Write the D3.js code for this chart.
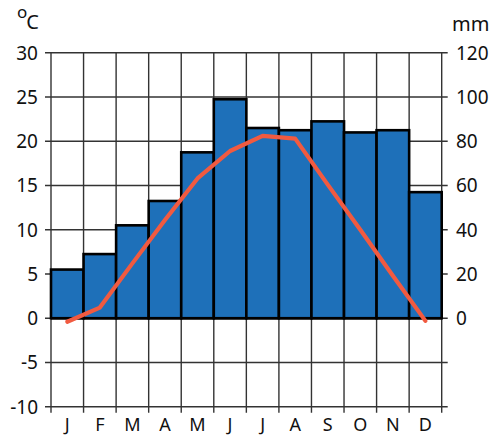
<!DOCTYPE html>
<html>
<head>
<meta charset="utf-8">
<script src="https://cdn.jsdelivr.net/npm/d3@7"></script>
<style>
  body { margin: 0; background: #fff; }
  svg text { font-family: "Noto Sans", "Open Sans", sans-serif; fill: #111; }
</style>
</head>
<body>
<svg id="chart" width="490" height="436"></svg>
<script>
// climate diagram: precipitation bars (right axis), temperature line (left axis)
var months = ["J", "F", "M", "A", "M", "J", "J", "A", "S", "O", "N", "D"];
var precip = [22, 29, 42, 53, 75, 99, 86, 85, 89, 84, 85, 57];
var temp = [-0.4, 1.2, 6.2, 11.1, 15.8, 18.9, 20.6, 20.3, 15.1, 10.0, 4.8, -0.3];
var tempTicks = [-10, -5, 0, 5, 10, 15, 20, 25, 30];
var precipTicks = [0, 20, 40, 60, 80, 100, 120];

var svg = d3.select("#chart"),
    plotLeft = 51, plotRight = 441.7, plotTop = 52.8, plotBottom = 406.7;

var x = d3.scaleBand()
    .domain(d3.range(months.length))
    .range([plotLeft, plotRight])
    .padding(0);

var yT = d3.scaleLinear().domain([-10, 30]).range([plotBottom, plotTop]);
var yP = d3.scaleLinear().domain([0, 120]).range([yT(0), yT(30)]);

var grid = svg.append("g").attr("stroke", "#333").attr("stroke-width", 1.4);

// horizontal grid with tick stubs on both sides
grid.selectAll("line.h")
  .data(tempTicks)
  .enter().append("line")
    .attr("class", "h")
    .attr("x1", plotLeft - 6)
    .attr("x2", plotRight + 6)
    .attr("y1", function(d) { return yT(d); })
    .attr("y2", function(d) { return yT(d); });

// vertical grid at month boundaries, running past the bottom edge
var bounds = d3.range(months.length + 1).map(function(i) {
  return i < months.length ? x(i) : plotRight;
});
grid.selectAll("line.v")
  .data(bounds)
  .enter().append("line")
    .attr("class", "v")
    .attr("x1", function(d) { return d; })
    .attr("x2", function(d) { return d; })
    .attr("y1", plotTop)
    .attr("y2", plotBottom + 6);

// bars
svg.append("g")
  .selectAll("rect")
  .data(precip)
  .enter().append("rect")
    .attr("x", function(d, i) { return x(i); })
    .attr("y", function(d) { return yP(d); })
    .attr("width", x.bandwidth())
    .attr("height", function(d) { return yP(0) - yP(d); })
    .attr("fill", "#1e70b9")
    .attr("stroke", "#000")
    .attr("stroke-width", 2.6);

// zero line
svg.append("line")
    .attr("x1", plotLeft).attr("x2", plotRight)
    .attr("y1", yT(0)).attr("y2", yT(0))
    .attr("stroke", "#000").attr("stroke-width", 2.6);

// temperature line
var line = d3.line()
    .x(function(d, i) { return x(i) + x.bandwidth() / 2; })
    .y(function(d) { return yT(d); });

svg.append("path")
    .datum(temp)
    .attr("d", line)
    .attr("fill", "none")
    .attr("stroke", "#f15a40")
    .attr("stroke-width", 4.2)
    .attr("stroke-linecap", "round")
    .attr("stroke-linejoin", "round");

// left axis labels
svg.append("g")
  .selectAll("text")
  .data(tempTicks)
  .enter().append("text")
    .attr("x", 38)
    .attr("y", function(d) { return yT(d); })
    .attr("dy", "0.36em")
    .attr("text-anchor", "end")
    .attr("font-size", 19)
    .text(function(d) { return d; });

// right axis labels
svg.append("g")
  .selectAll("text")
  .data(precipTicks)
  .enter().append("text")
    .attr("x", 456)
    .attr("y", function(d) { return yP(d); })
    .attr("dy", "0.36em")
    .attr("text-anchor", "start")
    .attr("font-size", 19)
    .text(function(d) { return d; });

// month labels
svg.append("g")
  .selectAll("text")
  .data(months)
  .enter().append("text")
    .attr("x", function(d, i) { return x(i) + x.bandwidth() / 2; })
    .attr("y", 431)
    .attr("text-anchor", "middle")
    .attr("font-size", 18)
    .text(function(d) { return d; });

// units
var unitT = svg.append("text").attr("x", 17).attr("y", 29);
unitT.append("tspan").attr("font-size", 17).attr("dy", -11).text("o");
unitT.append("tspan").attr("font-size", 20).attr("dy", 11).attr("dx", -1).text("C");

svg.append("text")
    .attr("x", 452)
    .attr("y", 31)
    .attr("font-size", 20)
    .text("mm");
</script>
</body>
</html>
